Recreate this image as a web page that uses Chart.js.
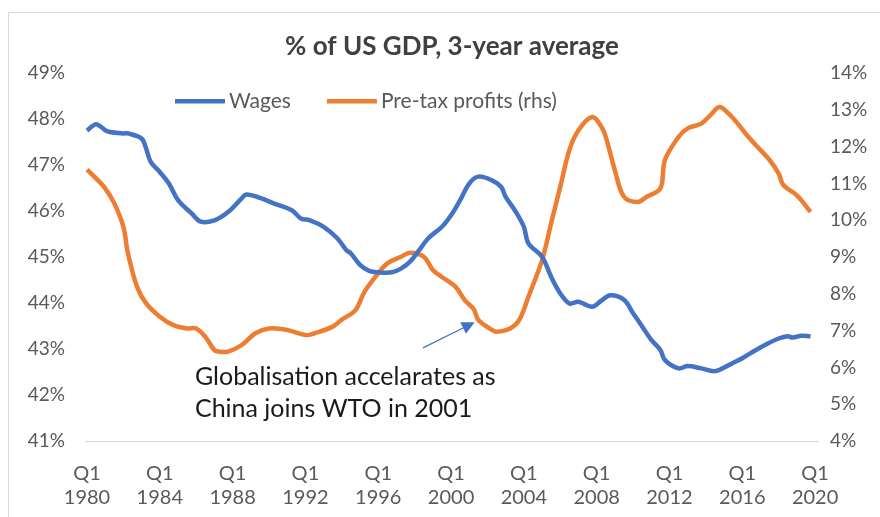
<!DOCTYPE html>
<html><head><meta charset="utf-8">
<script src="https://cdn.jsdelivr.net/npm/chart.js@4.4.1/dist/chart.umd.min.js"></script>
<style>html,body{margin:0;padding:0;background:#fff;}#wrap{width:880px;height:517px;position:relative;}</style>
</head><body><div id="wrap"><canvas id="c" width="880" height="517"></canvas></div>
<script>
const chartTitle = '% of US GDP, 3-year average';
const seriesNames = ['Wages', 'Pre-tax profits (rhs)'];
const xTickYears = [1980, 1984, 1988, 1992, 1996, 2000, 2004, 2008, 2012, 2016, 2020];
const leftTicks = [41, 42, 43, 44, 45, 46, 47, 48, 49];
const rightTicks = [4, 5, 6, 7, 8, 9, 10, 11, 12, 13, 14];

const wageYears = [1980.0,1980.5,1981.0,1981.25,1982.0,1982.25,1983.0,1983.25,1983.5,1984.0,1984.5,1985.0,1985.75,1986.25,1987.0,1987.75,1988.5,1988.75,1989.5,1990.25,1991.25,1991.75,1992.25,1993.0,1993.75,1994.25,1994.5,1995.0,1995.5,1996.0,1996.75,1997.25,1997.75,1998.25,1998.75,1999.5,2000.0,2000.5,2001.0,2001.5,2002.25,2002.75,2003.0,2003.5,2004.0,2004.25,2005.0,2005.5,2006.0,2006.5,2007.0,2007.75,2008.25,2008.75,2009.5,2010.0,2010.5,2011.0,2011.5,2011.75,2012.5,2013.0,2013.75,2014.5,2015.25,2015.5,2016.0,2016.75,2017.25,2018.0,2018.5,2018.75,2019.25,2019.75];
const wageValues = [47.75,47.89,47.76,47.72,47.69,47.69,47.58,47.36,47.07,46.85,46.60,46.24,45.95,45.77,45.80,45.98,46.28,46.36,46.29,46.17,46.02,45.84,45.80,45.66,45.41,45.15,45.08,44.83,44.70,44.67,44.67,44.75,44.90,45.15,45.41,45.66,45.91,46.24,46.60,46.75,46.67,46.53,46.31,46.02,45.66,45.30,45.01,44.57,44.21,43.99,44.03,43.92,44.05,44.17,44.07,43.78,43.49,43.20,42.98,42.76,42.58,42.63,42.58,42.52,42.65,42.70,42.80,42.98,43.09,43.23,43.28,43.25,43.29,43.28];

const profitYears = [1980.0,1980.5,1981.0,1981.5,1982.0,1982.25,1982.75,1983.25,1984.0,1984.75,1985.5,1986.0,1986.5,1987.0,1987.25,1987.75,1988.5,1989.25,1990.0,1991.0,1992.0,1992.5,1993.5,1994.0,1994.75,1995.25,1996.0,1996.5,1997.25,1997.75,1998.5,1999.0,1999.5,2000.25,2000.75,2001.25,2001.5,2002.25,2002.5,2003.25,2003.75,2004.25,2005.0,2005.5,2006.0,2006.5,2007.0,2007.75,2008.25,2008.5,2009.0,2009.5,2010.25,2010.75,2011.5,2011.75,2012.5,2013.0,2013.75,2014.25,2014.75,2015.25,2015.75,2016.25,2016.75,2017.5,2018.0,2018.25,2019.0,2019.75];
const profitValues = [11.38,11.14,10.87,10.46,9.82,9.10,8.19,7.74,7.38,7.15,7.06,7.06,6.83,6.47,6.43,6.43,6.61,6.93,7.06,7.02,6.88,6.93,7.11,7.30,7.56,8.06,8.56,8.83,9.01,9.12,9.01,8.65,8.46,8.19,7.83,7.58,7.29,7.02,6.97,7.06,7.29,7.92,8.92,9.92,10.91,11.91,12.45,12.81,12.55,12.27,11.36,10.64,10.50,10.64,10.87,11.64,12.27,12.50,12.63,12.86,13.08,12.90,12.63,12.32,12.04,11.64,11.27,10.96,10.68,10.23];

const noteLines = ['Globalisation accelarates as', 'China joins WTO in 2001'];
const noteAnchor = {year: 1985.93, rhs: [5.74, 4.87]};
const arrowFrom = {year: 1998.46, rhs: 6.53};
const arrowTo = {year: 2001.3, rhs: 7.23};

const FONT = 'Lato';
const BLUE = '#4472C4', ORANGE = '#ED7D31', GREY = '#595959';

const borderPlugin = {
  id: 'frame',
  beforeDraw(chart) {
    const ctx = chart.ctx;
    ctx.save();
    ctx.fillStyle = '#fff';
    ctx.fillRect(0, 0, chart.width, chart.height);
    ctx.strokeStyle = '#d9d9d9';
    ctx.lineWidth = 1;
    ctx.strokeRect(8.5, 12.5, 880, 520);
    ctx.restore();
  }
};

const legendPlugin = {
  id: 'inLegend',
  afterDraw(chart) {
    const ctx = chart.ctx, ca = chart.chartArea;
    ctx.save();
    ctx.font = '21px ' + FONT;
    ctx.textBaseline = 'middle';
    let x = ca.left + 90;
    const y = ca.top + 28;
    chart.data.datasets.forEach(ds => {
      ctx.strokeStyle = ds.borderColor;
      ctx.lineWidth = 4.5;
      ctx.beginPath(); ctx.moveTo(x, y); ctx.lineTo(x + 50, y); ctx.stroke();
      x += 54;
      ctx.fillStyle = GREY;
      ctx.fillText(ds.label, x, y);
      x += ctx.measureText(ds.label).width + 36;
    });
    ctx.restore();
  }
};

const notePlugin = {
  id: 'note',
  afterDatasetsDraw(chart) {
    const ctx = chart.ctx, xs = chart.scales.x, yr = chart.scales.y1;
    ctx.save();
    ctx.fillStyle = '#1a1a1a';
    ctx.font = '25px ' + FONT;
    ctx.textBaseline = 'middle';
    noteLines.forEach((t, i) => ctx.fillText(t, xs.getPixelForValue(noteAnchor.year), yr.getPixelForValue(noteAnchor.rhs[i])));
    const x0 = xs.getPixelForValue(arrowFrom.year), y0 = yr.getPixelForValue(arrowFrom.rhs);
    const x1 = xs.getPixelForValue(arrowTo.year), y1 = yr.getPixelForValue(arrowTo.rhs);
    const ang = Math.atan2(y1 - y0, x1 - x0);
    ctx.strokeStyle = BLUE; ctx.fillStyle = BLUE; ctx.lineWidth = 1.3;
    const hl = 13, hw = 6.5;
    const bx = x1 - hl * Math.cos(ang), by = y1 - hl * Math.sin(ang);
    ctx.beginPath(); ctx.moveTo(x0, y0); ctx.lineTo(bx, by); ctx.stroke();
    ctx.beginPath();
    ctx.moveTo(x1, y1);
    ctx.lineTo(bx + hw * Math.sin(ang), by - hw * Math.cos(ang));
    ctx.lineTo(bx - hw * Math.sin(ang), by + hw * Math.cos(ang));
    ctx.closePath(); ctx.fill();
    ctx.restore();
  }
};

const wagePts = wageYears.map((x, i) => ({x, y: wageValues[i]}));
const profitPts = profitYears.map((x, i) => ({x, y: profitValues[i]}));

new Chart(document.getElementById('c'), {
  type: 'line',
  data: {
    datasets: [
      {label: seriesNames[0], data: wagePts, yAxisID: 'y', borderColor: BLUE, borderWidth: 4.5, pointRadius: 0, tension: 0.35, fill: false},
      {label: seriesNames[1], data: profitPts, yAxisID: 'y1', borderColor: ORANGE, borderWidth: 4.5, pointRadius: 0, tension: 0.35, fill: false}
    ]
  },
  options: {
    responsive: false,
    animation: false,
    events: [],
    layout: {padding: {left: 24, right: 0, top: 31, bottom: 0}},
    plugins: {
      legend: {display: false},
      tooltip: {enabled: false},
      title: {display: true, text: chartTitle, color: '#404040', font: {family: FONT, size: 26, weight: 'bold'}, padding: {top: 0, bottom: 11}}
    },
    scales: {
      x: {
        type: 'linear', min: 1979.89, max: 2020.16,
        afterBuildTicks(s) { s.ticks = xTickYears.map(v => ({value: v})); },
        afterFit(s) { s.height = 76; },
        grid: {display: false, drawTicks: false},
        border: {display: true, color: '#d9d9d9', width: 1},
        ticks: {color: GREY, font: {family: FONT, size: 20, lineHeight: 1.2}, padding: 21, maxRotation: 0, autoSkip: false,
          callback: v => ['Q1', String(v)]}
      },
      y: {
        position: 'left', min: 41, max: 49,
        afterBuildTicks(s) { s.ticks = leftTicks.map(v => ({value: v})); },
        afterFit(s) { s.width = 61; },
        grid: {display: false, drawTicks: false},
        border: {display: false},
        ticks: {color: GREY, font: {family: FONT, size: 19}, padding: 20, callback: v => v + '%'}
      },
      y1: {
        position: 'right', min: 4, max: 14,
        afterBuildTicks(s) { s.ticks = rightTicks.map(v => ({value: v})); },
        afterFit(s) { s.width = 62; },
        grid: {display: false, drawTicks: false},
        border: {display: false},
        ticks: {color: GREY, font: {family: FONT, size: 19}, padding: 12, callback: v => v + '%'}
      }
    }
  },
  plugins: [borderPlugin, legendPlugin, notePlugin]
});
</script>
</body></html>
